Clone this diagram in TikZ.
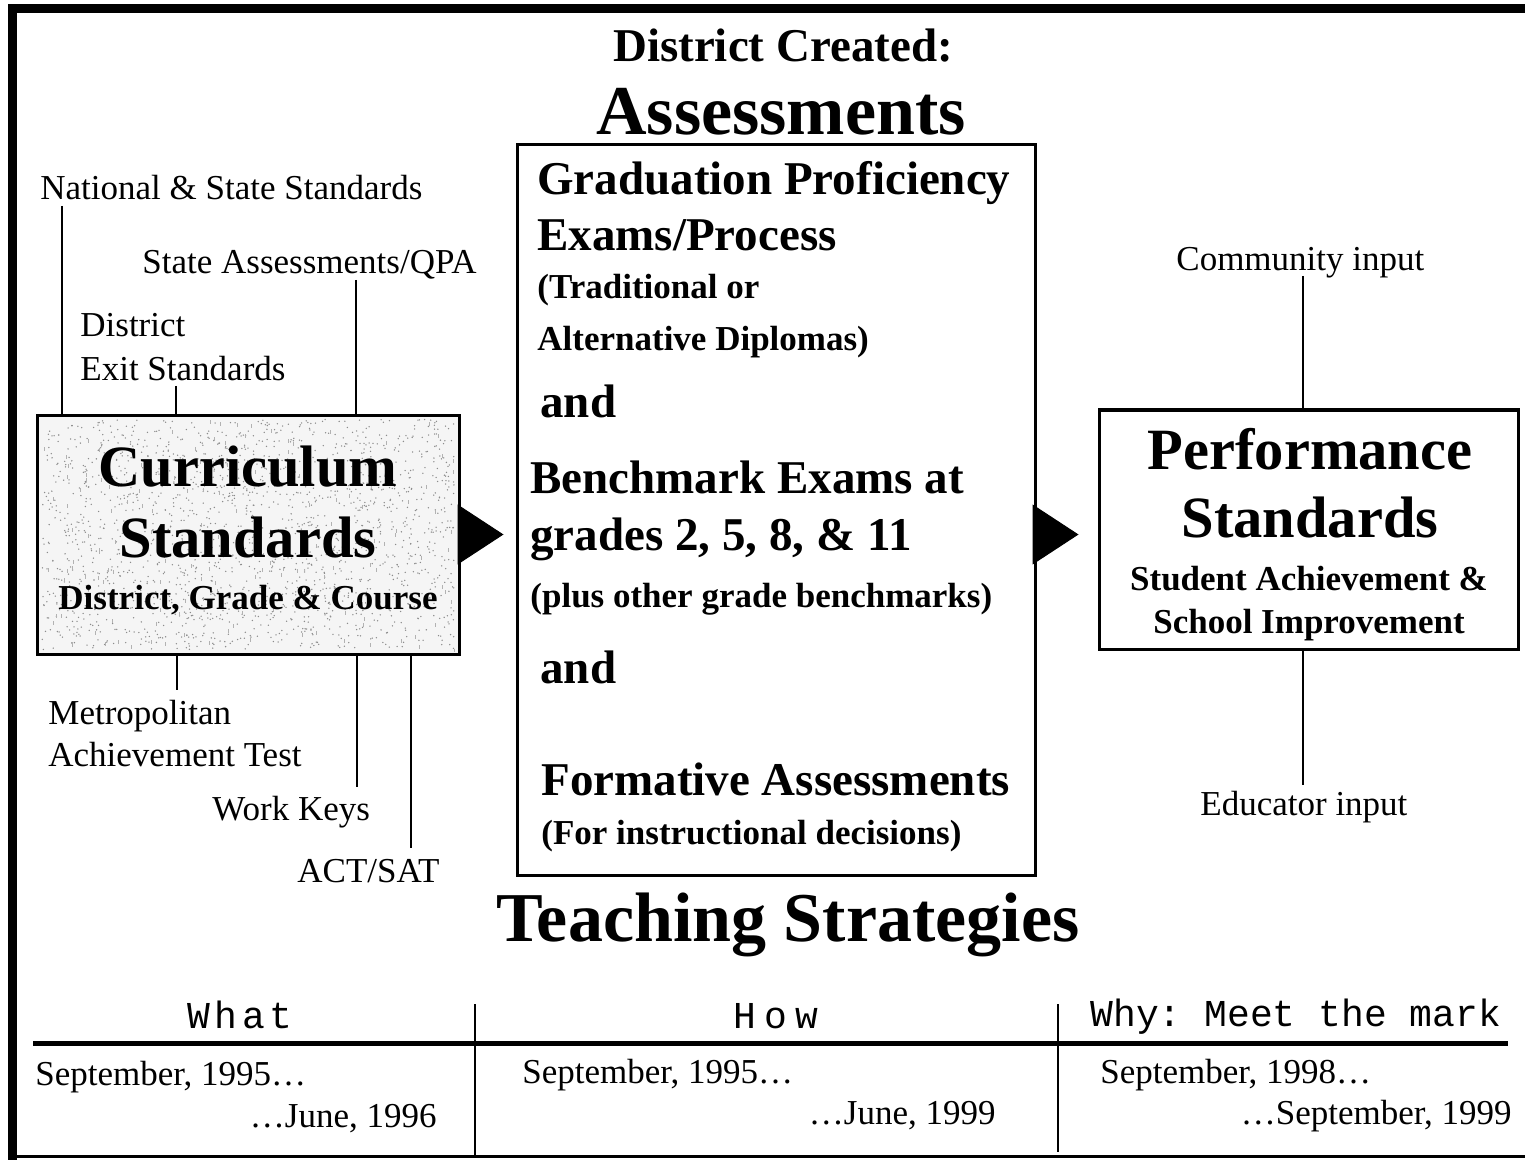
\documentclass[tikz,border=0pt]{standalone}
\usepackage{fontspec}
\setmainfont{Liberation Serif}
\setmonofont{Liberation Mono}
\usetikzlibrary{arrows.meta}

\newcommand\fsz[1]{\fontsize{#1}{1.15\dimexpr #1\relax}\selectfont}

\tikzset{
  lbl/.style={inner sep=0pt, font=\fsz{17.5pt}},
  boldsm/.style={inner sep=0pt, font=\bfseries\fsz{17.5pt}},
  boldmd/.style={inner sep=0pt, font=\bfseries\fsz{23.5pt}},
  boldlg/.style={inner sep=0pt, font=\bfseries\fsz{29.25pt}},
  boldxl/.style={inner sep=0pt, font=\bfseries\fsz{35pt}},
  mono/.style={inner sep=0pt, font=\ttfamily\fsz{19pt}},
  frame/.style={draw, line width=1.5pt, inner sep=0pt},
  tie/.style={line width=1pt},
  bigarrow/.style={-{Triangle[length=23pt,width=30pt]}, line width=0.5pt},
}

\begin{document}
\begin{tikzpicture}[x=0.5pt,y=-0.5pt]
\useasboundingbox (0,0) rectangle (1525,1160);

% outer border: heavy top and left edges, light bottom edge
\fill (8,4) rectangle (1525,13);
\fill (8,4) rectangle (17,1160);
\fill (17,1155) rectangle (1525,1158);

% heading
\node[boldmd, anchor=base] (dc) at (783,62) {District Created:};
\node[boldxl, anchor=base] (as) at (781,135) {Assessments};

% ---------- curriculum box (speckled grey fill) ----------
\node[frame, fill=gray!8, minimum width=211pt, minimum height=119.5pt] (curr) at (248,534.5) {};
\begin{scope}
  \clip (40,418) rectangle (456,651);
  \pgfmathsetseed{4217}
  \foreach \k in {1,...,1800}{
    \pgfmathsetmacro\sx{248+206*rand}
    \pgfmathsetmacro\sy{534.5+115*rand}
    \fill[black!45] (\sx,\sy) circle (0.38pt);
  }
  \foreach \k in {1,...,160}{
    \pgfmathsetmacro\sx{248+206*rand}
    \pgfmathsetmacro\sy{534.5+115*rand}
    \fill[black!30] (\sx,\sy) rectangle ++(0.9,4);
  }
\end{scope}
\node[boldlg, anchor=base] (cur1) at (248,486) {Curriculum};
\node[boldlg, anchor=base] (cur2) at (248,557) {Standards};
\node[boldsm, anchor=base] (cur3) at (248,609) {District, Grade \& Course};

% ---------- assessments box ----------
\node[frame, minimum width=259pt, minimum height=365pt] (mid) at (776,510) {};
\node[boldmd, anchor=base west] (m1) at (537,195) {Graduation Proficiency};
\node[boldmd, anchor=base west] (m2) at (537,251) {Exams/Process};
\node[boldsm, anchor=base west] (m3) at (537,299) {(Traditional or};
\node[boldsm, anchor=base west] (m4) at (537,351) {Alternative Diplomas)};
\node[boldmd, anchor=base west] (m5) at (540,417) {and};
\node[boldmd, anchor=base west] (m6) at (530,493) {Benchmark Exams at};
\node[boldmd, anchor=base west] (m7) at (530,550) {grades 2, 5, 8, \& 11};
\node[boldsm, anchor=base west] (m8) at (530,607) {(plus other grade benchmarks)};
\node[boldmd, anchor=base west] (m9) at (540,683) {and};
\node[boldmd, anchor=base west] (m10) at (541,795) {Formative Assessments};
\node[boldsm, anchor=base west] (m11) at (541,844) {(For instructional decisions)};

% ---------- performance box ----------
\node[frame, minimum width=209.5pt, minimum height=119.5pt] (perf) at (1308.5,529.5) {};
\node[boldlg, anchor=base] (p1) at (1310,469) {Performance};
\node[boldlg, anchor=base] (p2) at (1310,537) {Standards};
\node[boldsm, anchor=base] (p3) at (1309,590) {Student Achievement \&};
\node[boldsm, anchor=base] (p4) at (1309,633) {School Improvement};

% flow arrows
\draw[bigarrow, shorten >=6pt] (curr.east) -- (curr.east -| mid.west);
\draw[bigarrow, shorten >=9.5pt] (mid.east |- curr.east) -- (curr.east -| perf.west);

% ---------- inputs feeding the curriculum ----------
\node[lbl, anchor=base west] (natl) at (40,200) {National \& State Standards};
\node[lbl, anchor=base west] (stas) at (142,274) {State Assessments/QPA};
\node[lbl, anchor=base west] (dist1) at (80,337) {District};
\node[lbl, anchor=base west] (dist2) at (80,380) {Exit Standards};
\node[lbl, anchor=base west] (metro1) at (48,724) {Metropolitan};
\node[lbl, anchor=base west] (metro2) at (48,766) {Achievement Test};
\node[lbl, anchor=base west] (wk) at (212,820) {Work Keys};
\node[lbl, anchor=base west] (act) at (297,882) {ACT/SAT};

\coordinate (natlend) at (62,206);
\coordinate (stasend) at (356,280);
\coordinate (distend) at (176,386);
\coordinate (metroend) at (177,690);
\coordinate (wkend) at (357,787);
\coordinate (actend) at (411,848);
\draw[tie] (natlend) -- (natlend |- curr.north);
\draw[tie] (stasend) -- (stasend |- curr.north);
\draw[tie] (distend) -- (distend |- curr.north);
\draw[tie] (metroend |- curr.south) -- (metroend);
\draw[tie] (wkend |- curr.south) -- (wkend);
\draw[tie] (actend |- curr.south) -- (actend);

% ---------- inputs feeding the performance standards ----------
\node[lbl, anchor=base west] (comm) at (1176,271) {Community input};
\node[lbl, anchor=base west] (educ) at (1200,815) {Educator input};
\coordinate (commend) at (1303,276);
\coordinate (educend) at (1303,785);
\draw[tie] (commend) -- (commend |- perf.north);
\draw[tie] (educend |- perf.south) -- (educend);

% ---------- teaching strategies ----------
\node[boldxl, anchor=base] (ts) at (788,941) {Teaching Strategies};

% timeline table
\node[mono, anchor=base] (what) at (240,1028) {W\hspace{2.3pt}h\hspace{2.3pt}a\hspace{2.3pt}t};
\node[mono, anchor=base] (how) at (776,1028) {H\hspace{4.2pt}o\hspace{4.2pt}w};
\node[mono, anchor=base west] (why) at (1090,1026) {Why: Meet the mark};

\coordinate (ruleL) at (33,1043);
\coordinate (ruleR) at (1508,1043);
\draw[line width=2.5pt] (ruleL) -- (ruleR);
\coordinate (d1top) at (475,1004);
\coordinate (d1bot) at (475,1155);
\coordinate (d2top) at (1058,1004);
\coordinate (d2bot) at (1058,1152);
\draw[tie] (d1top) -- (d1bot);
\draw[tie] (d2top) -- (d2bot);

\node[lbl, anchor=base west] (s1) at (35,1085) {September, 1995…};
\node[lbl, anchor=base east] (e1) at (437,1127) {…June, 1996};
\node[lbl, anchor=base west] (s2) at (522,1083) {September, 1995…};
\node[lbl, anchor=base east] (e2) at (996,1124) {…June, 1999};
\node[lbl, anchor=base west] (s3) at (1100,1083) {September, 1998…};
\node[lbl, anchor=base east] (e3) at (1512,1124) {…September, 1999};
\end{tikzpicture}
\end{document}
